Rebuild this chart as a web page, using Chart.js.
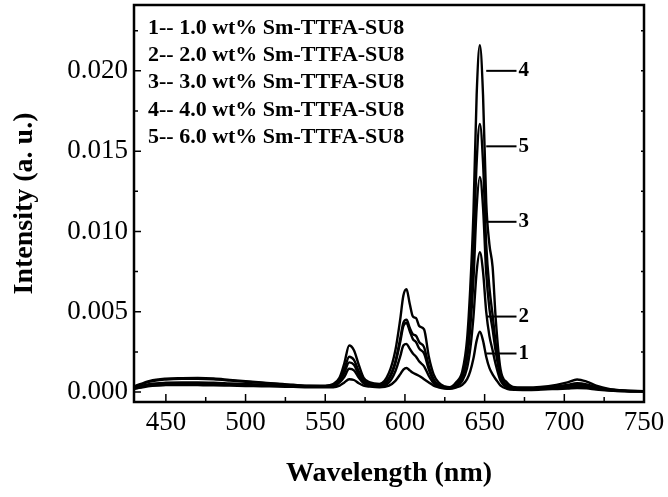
<!DOCTYPE html>
<html>
<head>
<meta charset="utf-8">
<script src="https://cdn.jsdelivr.net/npm/chart.js@4.4.1/dist/chart.umd.min.js"></script>
<style>
  html, body { margin: 0; padding: 0; background: #fff; }
</style>
</head>
<body>
<canvas id="spectra" width="668" height="497"></canvas>
<script>
// wavelength (nm) and emission intensity (a. u.) of the five films
const wavelength = [430,440,450,460,470,480,490,500,510,520,530,540,550,
  555,559,562,565,568,571,574,578,584,590,
  594,597,599,601,603,605,607,609,612,615,618,621,625,
  628,632,636,639,641,643,645,647,649,651,653,655,657,
  660,664,669,676,685,695,702,708,714,720,728,738,750];

const s1 = [0.0002,0.00038,0.00043,0.00044,0.00043,0.00042,0.0004,0.00038,0.00036,0.00034,0.00032,0.0003,0.0003,
  0.0003,0.0004,0.0006,0.0008,0.00075,0.00055,0.0004,0.00034,0.0003,0.0004,
  0.0007,0.0011,0.0014,0.0015,0.00135,0.0012,0.0011,0.001,0.0008,0.0006,0.0004,0.0003,0.00022,
  0.0002,0.00028,0.00045,0.0008,0.0013,0.0021,0.0032,0.00375,0.0032,0.0022,0.0015,0.0011,0.0008,
  0.0004,0.0002,0.00014,0.00013,0.00015,0.00019,0.00022,0.00025,0.00023,0.00016,0.0001,0.00005,0.00003];

const s2 = [0.0002,0.00042,0.0005,0.00052,0.00052,0.0005,0.00048,0.00045,0.00042,0.00039,0.00036,0.00033,0.00032,
  0.00035,0.0006,0.00095,0.00145,0.00135,0.0009,0.00055,0.00042,0.00036,0.0006,
  0.0013,0.0022,0.0029,0.003,0.0027,0.0024,0.0022,0.0019,0.0016,0.001,0.00055,0.00035,0.00025,
  0.00023,0.00034,0.0007,0.0015,0.0027,0.0047,0.0075,0.0087,0.0075,0.005,0.0035,0.0026,0.0017,
  0.0007,0.0003,0.00018,0.00017,0.00019,0.00024,0.00029,0.00033,0.0003,0.0002,0.00011,0.00006,0.00003];

const s3 = [0.00025,0.0005,0.00058,0.0006,0.0006,0.00058,0.00054,0.0005,0.00046,0.00042,0.00038,0.00034,0.00033,
  0.0004,0.0007,0.0012,0.00185,0.0017,0.0011,0.00065,0.0005,0.0004,0.0008,
  0.0018,0.0031,0.0041,0.0043,0.0038,0.0033,0.0031,0.0027,0.0024,0.0014,0.0007,0.0004,0.00028,
  0.00026,0.00042,0.0009,0.0021,0.004,0.007,0.0115,0.0134,0.0115,0.0074,0.0052,0.0039,0.0025,
  0.0009,0.0004,0.00022,0.0002,0.00023,0.0003,0.00038,0.00045,0.0004,0.00026,0.00014,0.00007,0.00004];

const s4 = [0.00035,0.0007,0.00083,0.00086,0.00087,0.00084,0.00076,0.00068,0.0006,0.00052,0.00045,0.0004,0.0004,
  0.0005,0.0009,0.0018,0.0029,0.0026,0.0017,0.0009,0.0006,0.0005,0.0012,
  0.0026,0.0045,0.006,0.0064,0.0055,0.0047,0.0046,0.0041,0.0039,0.0022,0.0011,0.0006,0.00035,
  0.0003,0.0006,0.0013,0.0033,0.0065,0.0112,0.0185,0.0216,0.0185,0.0118,0.0092,0.0078,0.0045,
  0.0014,0.0006,0.0003,0.00028,0.00032,0.00045,0.0006,0.00078,0.00065,0.0004,0.0002,0.0001,0.00006];

const s5 = [0.0003,0.00065,0.00078,0.00082,0.00082,0.00079,0.00072,0.00064,0.00057,0.0005,0.00043,0.00038,0.00037,
  0.00045,0.0008,0.0014,0.0022,0.002,0.0013,0.00075,0.00055,0.00045,0.0009,
  0.0019,0.0033,0.0043,0.0045,0.004,0.0036,0.0035,0.0031,0.0028,0.0016,0.0008,0.00045,0.0003,
  0.00028,0.0005,0.0011,0.0026,0.005,0.0088,0.0143,0.0167,0.0143,0.0092,0.0065,0.0048,0.003,
  0.0011,0.00045,0.00025,0.00024,0.00026,0.00035,0.00045,0.00055,0.00048,0.0003,0.00016,0.00008,0.00005];

const seriesNames = ['1-- 1.0 wt% Sm-TTFA-SU8', '2-- 2.0 wt% Sm-TTFA-SU8', '3-- 3.0 wt% Sm-TTFA-SU8',
  '4-- 4.0 wt% Sm-TTFA-SU8', '5-- 6.0 wt% Sm-TTFA-SU8'];

const xTicks = [450, 500, 550, 600, 650, 700, 750];
const xMinor = [475, 525, 575, 625, 675, 725];
const yTicks = [0, 0.005, 0.010, 0.015, 0.020];
const yMinor = [0.0025, 0.0075, 0.0125, 0.0175, 0.0225];

// curve tags next to the 647 nm peak
const tagText = ['1', '2', '3', '4', '5'];
const tagY = [0.0024, 0.0047, 0.0106, 0.0200, 0.0153];
const tagFrom = 651, tagTo = 670;

const serif = "'Liberation Serif', 'Times New Roman', serif";
const allSeries = [s1, s2, s3, s4, s5];

const decor = {
  id: 'decor',
  afterDatasetsDraw(chart) {
    const {ctx, chartArea: a, scales: {x, y}} = chart;
    ctx.save();
    ctx.strokeStyle = '#000';
    ctx.lineWidth = 1.5;
    ctx.beginPath();
    yTicks.forEach(v => {
      const py = y.getPixelForValue(v);
      ctx.moveTo(a.left, py); ctx.lineTo(a.left + 7, py);
      ctx.moveTo(a.right, py); ctx.lineTo(a.right - 3, py);
    });
    yMinor.forEach(v => {
      const py = y.getPixelForValue(v);
      ctx.moveTo(a.left, py); ctx.lineTo(a.left + 4, py);
      ctx.moveTo(a.right, py); ctx.lineTo(a.right - 3, py);
    });
    xTicks.forEach(v => {
      const px = x.getPixelForValue(v);
      ctx.moveTo(px, a.bottom); ctx.lineTo(px, a.bottom - 8);
    });
    xMinor.forEach(v => {
      const px = x.getPixelForValue(v);
      ctx.moveTo(px, a.bottom); ctx.lineTo(px, a.bottom - 5);
    });
    ctx.stroke();

    ctx.lineWidth = 2.5;
    ctx.strokeRect(a.left, a.top, a.right - a.left, a.bottom - a.top);

    // legend text
    ctx.fillStyle = '#000';
    ctx.font = 'bold 22px ' + serif;
    ctx.textAlign = 'left';
    ctx.textBaseline = 'middle';
    seriesNames.forEach((t, i) => ctx.fillText(t, a.left + 14, a.top + 23 + i * 27.3));

    // peak tags
    ctx.lineWidth = 2;
    ctx.font = 'bold 21px ' + serif;
    tagText.forEach((t, i) => {
      const py = y.getPixelForValue(tagY[i]);
      const x0 = x.getPixelForValue(tagFrom), x1 = x.getPixelForValue(tagTo);
      ctx.beginPath();
      ctx.moveTo(x0, py); ctx.lineTo(x1, py);
      ctx.stroke();
      ctx.fillText(t, x1 + 2, py);
    });
    ctx.restore();
  }
};

new Chart(document.getElementById('spectra').getContext('2d'), {
  type: 'line',
  data: {
    datasets: allSeries.map((s, k) => ({
      label: seriesNames[k],
      data: wavelength.map((w, i) => ({x: w, y: s[i]})),
      borderColor: '#000',
      borderWidth: 2.4,
      pointRadius: 0,
      fill: false,
      cubicInterpolationMode: 'monotone'
    }))
  },
  options: {
    responsive: false,
    animation: false,
    devicePixelRatio: 1,
    layout: { padding: { top: 5, right: 24, left: 0, bottom: 0 } },
    plugins: { legend: { display: false }, tooltip: { enabled: false } },
    scales: {
      x: {
        type: 'linear',
        position: 'bottom',
        min: 430,
        max: 750,
        grid: { display: false, drawTicks: false },
        border: { display: false },
        afterBuildTicks: scale => { scale.ticks = xTicks.map(v => ({value: v})); },
        afterFit: scale => { scale.height = 95; scale.paddingLeft = 0; scale.paddingRight = 0; },
        ticks: {
          autoSkip: false,
          maxRotation: 0,
          padding: 5,
          color: '#000',
          font: { family: serif, size: 27 }
        },
        title: {
          display: true,
          text: 'Wavelength (nm)',
          color: '#000',
          font: { family: serif, size: 28, weight: 'bold' },
          padding: { top: 0, bottom: 6 }
        }
      },
      y: {
        type: 'linear',
        min: -0.00062,
        max: 0.0241,
        grid: { display: false, drawTicks: false },
        border: { display: false },
        afterBuildTicks: scale => { scale.ticks = yTicks.map(v => ({value: v})); },
        afterFit: scale => { scale.width = 134; scale.paddingTop = 0; scale.paddingBottom = 0; },
        ticks: {
          autoSkip: false,
          padding: 6,
          color: '#000',
          font: { family: serif, size: 27 },
          callback: v => v.toFixed(3)
        },
        title: {
          display: true,
          text: 'Intensity (a. u.)',
          color: '#000',
          font: { family: serif, size: 28, weight: 'bold' },
          padding: { top: 8, bottom: 0 }
        }
      }
    }
  },
  plugins: [decor]
});
</script>
</body>
</html>
